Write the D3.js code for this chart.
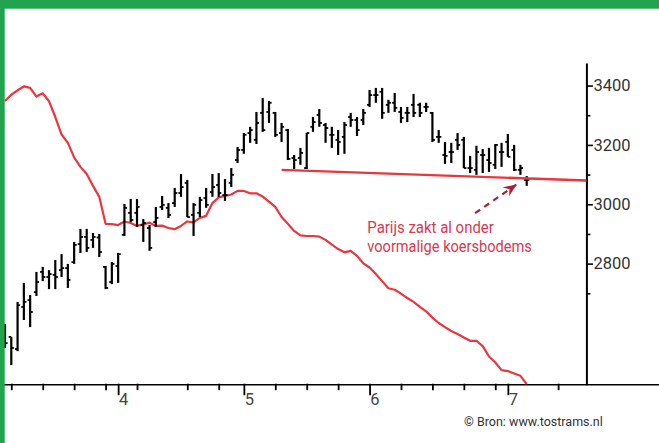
<!DOCTYPE html>
<html>
<head>
    <meta charset="utf-8">
    <title>Parijs</title>
    <script src="https://d3js.org/d3.v7.min.js"></script>
    <style>
        body {
            margin: 0;
            background: #fff;
        }

        svg {
            display: block;
        }

        .axis text {
            font-family: Roboto, 'Noto Sans', sans-serif;
            font-size: 16.5px;
            fill: #333;
        }
    </style>
</head>
<body>
<div id="chart"></div>
<script>
    // daily bars, index 0 = first bar on the left
    const opens  = [2566, 2553, 2512, 2654, 2677, 2704, 2772, 2755, 2762, 2778, 2785, 2805, 2866, 2890, 2880, 2888, 2789, 2738, 2792, 2897,
                    2971, 2971, 2930, 2920, 2940, 2991, 2988, 3004, 3038, 3072, 2964, 2971, 3021, 3041, 3065, 3031, 3072, 3149, 3183, 3240,
                    3217, 3308, 3311, 3308, 3240, 3250, 3156, 3156, 3122, 3261, 3301, 3267, 3234, 3217, 3227, 3294, 3284, 3284, 3335, 3368,
                    3379, 3335, 3342, 3311, 3308, 3335, 3335, 3328, 3308, 3227, 3166, 3176, 3217, 3217, 3122, 3116, 3166, 3149, 3133, 3176,
                    3210, 3183, 3116, 3082];
    const highs  = [2596, 2553, 2671, 2735, 2694, 2772, 2789, 2778, 2812, 2832, 2799, 2873, 2917, 2917, 2903, 2900, 2792, 2805, 2836, 3001,
                    3018, 3018, 2950, 2930, 2991, 3028, 3004, 3055, 3102, 3082, 3004, 3025, 3055, 3102, 3105, 3085, 3122, 3193, 3240, 3261,
                    3311, 3358, 3348, 3311, 3274, 3254, 3166, 3190, 3240, 3294, 3321, 3274, 3261, 3250, 3277, 3308, 3294, 3321, 3385, 3392,
                    3392, 3352, 3375, 3328, 3328, 3372, 3342, 3342, 3311, 3250, 3210, 3207, 3240, 3227, 3163, 3197, 3186, 3190, 3203, 3207,
                    3237, 3200, 3133, 3095];
    const lows   = [2516, 2458, 2505, 2610, 2586, 2691, 2741, 2714, 2714, 2755, 2718, 2799, 2836, 2839, 2853, 2822, 2714, 2731, 2735, 2893,
                    2940, 2924, 2873, 2843, 2924, 2981, 2954, 2991, 3025, 2957, 2893, 2957, 2988, 3025, 3025, 3011, 3058, 3139, 3170, 3207,
                    3203, 3244, 3274, 3227, 3210, 3149, 3119, 3133, 3119, 3244, 3261, 3207, 3190, 3166, 3170, 3261, 3230, 3267, 3328, 3342,
                    3288, 3308, 3311, 3274, 3277, 3294, 3294, 3311, 3210, 3207, 3136, 3139, 3183, 3122, 3105, 3099, 3105, 3109, 3119, 3126,
                    3160, 3112, 3099, 3062];
    const closes = [2532, 2516, 2660, 2671, 2637, 2738, 2755, 2765, 2755, 2785, 2745, 2863, 2890, 2853, 2890, 2839, 2718, 2799, 2832, 2988,
                    2947, 2991, 2937, 2853, 2954, 2998, 2964, 3038, 3058, 2957, 2998, 3014, 2998, 3058, 3038, 3031, 3099, 3183, 3234, 3250,
                    3274, 3250, 3342, 3234, 3261, 3153, 3149, 3173, 3240, 3277, 3274, 3257, 3234, 3210, 3267, 3284, 3250, 3308, 3368, 3368,
                    3308, 3342, 3325, 3291, 3308, 3308, 3308, 3328, 3217, 3227, 3163, 3176, 3200, 3122, 3122, 3176, 3166, 3139, 3200, 3176,
                    3160, 3116, 3122, 3082];

    // red indicator line, one value per bar
    const indicator = [3348, 3369, 3384, 3397, 3392, 3363, 3374, 3347, 3294, 3235, 3207, 3158, 3126, 3102, 3062, 3025, 2934, 2933, 2930, 2942,
                       2937, 2927, 2932, 2938, 2927, 2928, 2920, 2916, 2927, 2942, 2939, 2954, 2961, 3004, 3023, 3028, 3033, 3045, 3045, 3037,
                       3037, 3026, 3009, 2991, 2957, 2934, 2910, 2895, 2893, 2893, 2891, 2880, 2864, 2849, 2838, 2843, 2826, 2801, 2787, 2765,
                       2741, 2717, 2712, 2699, 2684, 2671, 2654, 2639, 2618, 2600, 2586, 2573, 2563, 2551, 2540, 2540, 2522, 2487, 2467, 2441,
                       2438, 2430, 2422, 2394];

    // support line and annotation arrow (bar index, value)
    const trendIdx = [44, 92.5];
    const trendVal = [3116, 3080];
    const arrowIdx = [74.8, 81.4];
    const arrowVal = [2970, 3067];

    const yMajor = [2800, 3000, 3200, 3400];
    const yMinor = [2700, 2900, 3100, 3300];
    const xMajor = [18, 38, 58, 80];
    const xLabels = ['4', '5', '6', '7'];
    const xMinor = [1, 6, 11, 16, 21, 29, 34, 43, 48, 53, 63, 68, 73, 78, 88];

    const width = 659;
    const height = 443;
    const green = '#22a34f';
    const red = '#e8373e';

    const x = d3.scaleLinear().domain([0, 83]).range([5, 526.7]);
    const y = d3.scaleLinear().domain([2392, 3476]).range([384.7, 63]);
    const axisX = x(92.5);
    const axisY = y(2392);

    const svg = d3.select('#chart')
        .append('svg')
        .attr('width', width)
        .attr('height', height);

    svg.append('rect').attr('width', width).attr('height', height).attr('fill', '#fff');

    // bottom axis
    svg.append('line')
        .attr('x1', 4).attr('x2', width)
        .attr('y1', axisY).attr('y2', axisY)
        .attr('stroke', '#000').attr('stroke-width', 1.5);

    const gMinor = svg.append('g')
        .attr('class', 'axis')
        .attr('transform', `translate(0,${axisY})`)
        .call(d3.axisBottom(x).tickValues(xMinor).tickSize(5.5).tickFormat(''));
    gMinor.select('.domain').remove();
    gMinor.selectAll('.tick line').attr('y1', -1).attr('stroke-width', 1.8);

    const gMajor = svg.append('g')
        .attr('class', 'axis')
        .attr('transform', `translate(0,${axisY})`)
        .call(d3.axisBottom(x).tickValues(xMajor).tickSize(10.5)
            .tickFormat((d, i) => xLabels[i]));
    gMajor.select('.domain').remove();
    gMajor.selectAll('.tick line').attr('y1', -1).attr('stroke-width', 1.8);
    gMajor.selectAll('.tick text')
        .attr('text-anchor', 'start')
        .attr('x', 0.3)
        .attr('y', 9)
        .style('fill', '#444');

    // right axis
    const gy = svg.append('g')
        .attr('class', 'axis')
        .attr('transform', `translate(${axisX},0)`)
        .call(d3.axisRight(y).tickValues(yMajor).tickFormat(d3.format('d'))
            .tickSize(6.5).tickPadding(0.5).tickSizeOuter(0));
    gy.select('.domain').attr('stroke-width', 2);
    gy.selectAll('.tick line').attr('stroke-width', 1.6);

    svg.append('g')
        .attr('transform', `translate(${axisX},0)`)
        .call(d3.axisRight(y).tickValues(yMinor).tickSize(4).tickFormat('').tickSizeOuter(0))
        .call(g => g.select('.domain').remove())
        .selectAll('.tick line').attr('stroke-width', 1.6);

    // red indicator
    const line = d3.line()
        .x((d, i) => x(i))
        .y(d => y(d));

    svg.append('path')
        .datum(indicator)
        .attr('d', line)
        .attr('fill', 'none')
        .attr('stroke', red)
        .attr('stroke-width', 2.2)
        .attr('stroke-linejoin', 'round');

    // bars
    const bars = svg.append('g').attr('stroke', '#000');
    opens.forEach((o, i) => {
        const cx = x(i);
        bars.append('line')
            .attr('x1', cx).attr('x2', cx)
            .attr('y1', y(highs[i])).attr('y2', y(lows[i]))
            .attr('stroke-width', 2.2);
        bars.append('line')
            .attr('x1', cx - 2.6).attr('x2', cx)
            .attr('y1', y(o)).attr('y2', y(o))
            .attr('stroke-width', 1.8);
        bars.append('line')
            .attr('x1', cx).attr('x2', cx + 2.6)
            .attr('y1', y(closes[i])).attr('y2', y(closes[i]))
            .attr('stroke-width', 1.8);
    });

    // support line
    svg.append('line')
        .attr('x1', x(trendIdx[0])).attr('y1', y(trendVal[0]))
        .attr('x2', x(trendIdx[1])).attr('y2', y(trendVal[1]))
        .attr('stroke', red)
        .attr('stroke-width', 2.4);

    // dashed arrow
    svg.append('defs').append('marker')
        .attr('id', 'head')
        .attr('viewBox', '0 0 12 10')
        .attr('refX', 12).attr('refY', 5)
        .attr('markerWidth', 13).attr('markerHeight', 11)
        .attr('markerUnits', 'userSpaceOnUse')
        .attr('orient', 'auto')
        .append('path')
        .attr('d', 'M0,0 L12,5 L0,10 L4,5 Z')
        .attr('fill', '#a8213a');

    svg.append('line')
        .attr('x1', x(arrowIdx[0])).attr('y1', y(arrowVal[0]))
        .attr('x2', x(arrowIdx[1])).attr('y2', y(arrowVal[1]))
        .attr('stroke', '#a8213a')
        .attr('stroke-width', 2.2)
        .attr('stroke-dasharray', '6,5')
        .attr('marker-end', 'url(#head)');

    const note = svg.append('text')
        .attr('font-family', 'Roboto, sans-serif')
        .attr('font-size', 16)
        .attr('fill', '#d63a52');
    note.append('tspan').attr('x', 367.3).attr('y', 233.3)
        .attr('textLength', 126.5).attr('lengthAdjust', 'spacingAndGlyphs')
        .text('Parijs zakt al onder');
    note.append('tspan').attr('x', 367.3).attr('y', 251.5)
        .attr('textLength', 164.5).attr('lengthAdjust', 'spacingAndGlyphs')
        .text('voormalige koersbodems');

    svg.append('text')
        .attr('x', 464).attr('y', 425.7)
        .attr('font-family', 'Roboto, sans-serif')
        .attr('font-size', 12.5)
        .attr('fill', '#333')
        .text('© Bron: www.tostrams.nl');

    // green frame
    svg.append('rect').attr('x', 0).attr('y', 0).attr('width', width).attr('height', 8.7).attr('fill', green);
    svg.append('rect').attr('x', 0).attr('y', 0).attr('width', 4.7).attr('height', height).attr('fill', green);
</script>
</body>
</html>
